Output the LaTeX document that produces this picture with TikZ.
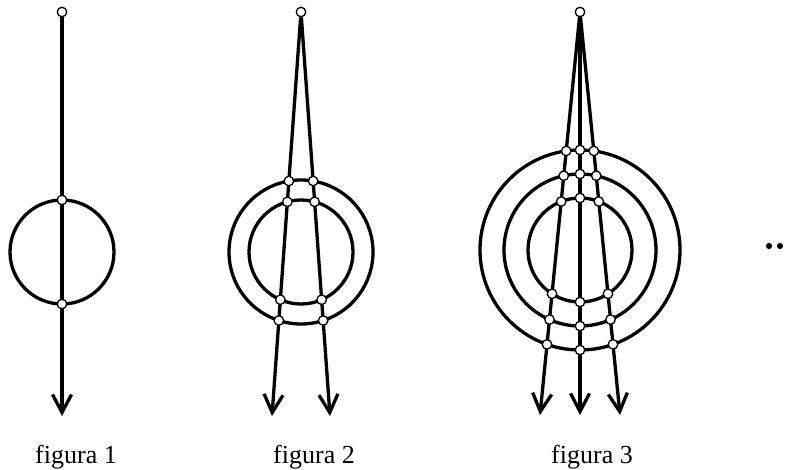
\documentclass[tikz,border=0pt]{standalone}
\usepackage{fontspec}
\setmainfont{Liberation Serif}
\usetikzlibrary{arrows.meta,calc}

\tikzset{
  ring/.style={line width=3.3pt},
  ray/.style={line width=3.3pt,-{Straight Barb[length=18pt,width=19pt]}},
  knot/.style={circle,draw,fill=white,line width=1.3pt,inner sep=0pt,minimum size=9.5pt},
  figname/.style={anchor=base,font=\fontsize{26}{30}\selectfont}
}

\begin{document}
\begin{tikzpicture}[x=1pt,y=-1pt]
 \useasboundingbox (0,0) rectangle (789,470);
 % figura 1
 \begin{scope}[xshift=62pt]
  \draw[ring] (0,252) circle[radius=52];
  \node[knot] (top1) at (0,12) {};
  \coordinate (tip1) at (0,416);
  \draw[ray] (top1) -- (tip1);
  \node[knot] (k1a) at (0,200) {}; \node[knot] (k1b) at (0,304) {};
  \node[figname] (cap1) at (14,463) {figura 1};
 \end{scope}
 % figura 2
 \begin{scope}[xshift=301pt]
  \foreach \r in {52,72}{ \draw[ring] (0,252) circle[radius=\r]; }
  \node[knot] (top2) at (0,12) {};
  \foreach \d [count=\j] in {-29,29}{
   \coordinate (tip2\j) at (\d,416);
   \draw[ray] (top2) -- (tip2\j);
   \foreach \r [count=\k] in {52,72}{
    \pgfmathsetmacro\uy{40.4/sqrt((\d/10)^2+40.4^2)}
    \pgfmathsetmacro\w{sqrt((24*\uy)^2-24^2+(\r/10)^2)}
    \pgfmathsetmacro\sa{10*(24*\uy-\w)}
    \pgfmathsetmacro\sb{10*(24*\uy+\w)}
    \node[knot] (k2\j\k a) at ($(0,12)!\sa pt!(tip2\j)$) {};
    \node[knot] (k2\j\k b) at ($(0,12)!\sb pt!(tip2\j)$) {};
   }
  }
  \node[figname] (cap2) at (13,463) {figura 2};
 \end{scope}
 % figura 3
 \begin{scope}[xshift=580pt]
  \foreach \r in {52,76,100}{ \draw[ring] (0,250) circle[radius=\r]; }
  \node[knot] (top3) at (0,12) {};
  \foreach \d [count=\j] in {-40,0,40}{
   \coordinate (tip3\j) at (\d,415);
   \draw[ray] (top3) -- (tip3\j);
   \foreach \r [count=\k] in {52,76,100}{
    \pgfmathsetmacro\uy{40.3/sqrt((\d/10)^2+40.3^2)}
    \pgfmathsetmacro\w{sqrt((23.8*\uy)^2-23.8^2+(\r/10)^2)}
    \pgfmathsetmacro\sa{10*(23.8*\uy-\w)}
    \pgfmathsetmacro\sb{10*(23.8*\uy+\w)}
    \node[knot] (k3\j\k a) at ($(0,12)!\sa pt!(tip3\j)$) {};
    \node[knot] (k3\j\k b) at ($(0,12)!\sb pt!(tip3\j)$) {};
   }
  }
  \node[figname] (cap3) at (12,463) {figura 3};
 \end{scope}
 % dots
 \fill (769,246) circle[radius=3.1] (780,246) circle[radius=3.1];
\end{tikzpicture}
\end{document}
